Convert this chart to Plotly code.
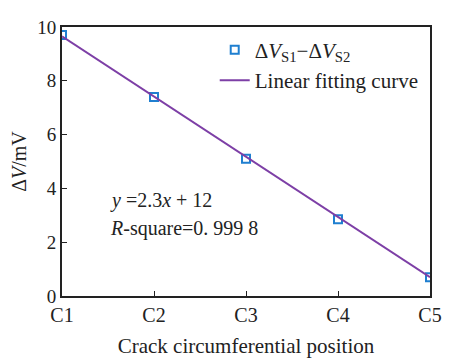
import plotly.graph_objects as go

categories = ["C1", "C2", "C3", "C4", "C5"]
positions = [1, 2, 3, 4, 5]
delta_v = [9.7, 7.4, 5.1, 2.85, 0.7]
fit_x = [1, 5]
fit_y = [9.65, 0.7]
y_ticks = [0, 2, 4, 6, 8, 10]

FONT = "Liberation Serif"

fig = go.Figure()
fig.add_trace(go.Scatter(
    x=positions, y=delta_v, mode="markers",
    name="Δ<i>V</i><sub>S1</sub>−Δ<i>V</i><sub>S2</sub>",
    marker=dict(symbol="square-open", size=8, color="#1f7fd0", line=dict(width=2, color="#1f7fd0")),
))
fig.add_trace(go.Scatter(
    x=fit_x, y=fit_y, mode="lines", name="Linear fitting curve",
    line=dict(color="#7d3fa6", width=2),
))

fig.update_layout(
    width=443, height=355,
    margin=dict(l=52, r=13, t=9, b=64),
    paper_bgcolor="white", plot_bgcolor="white",
    font=dict(family=FONT, size=20, color="#222"),
    showlegend=True,
    legend=dict(x=0.415, y=0.99, xanchor="left", yanchor="top",
                bgcolor="rgba(255,255,255,0)", font=dict(family=FONT, size=21),
                itemwidth=30, tracegroupgap=0),
    xaxis=dict(range=[1, 5], tickvals=positions, ticktext=categories,
               ticks="inside", ticklen=5, tickcolor="#222",
               showline=True, linecolor="#222", linewidth=2, mirror=True,
               showgrid=False, zeroline=False,
               title=dict(text="Crack circumferential position", font=dict(size=21), standoff=13)),
    yaxis=dict(range=[0, 10], tickvals=y_ticks,
               ticks="inside", ticklen=5, tickcolor="#222", tickfont=dict(size=19),
               showline=True, linecolor="#222", linewidth=2, mirror=True,
               showgrid=False, zeroline=False,
               title=dict(text="Δ<i>V</i>/mV", font=dict(size=20), standoff=6)),
)
fig.add_annotation(x=0.125, y=0.355, xref="paper", yref="paper", xanchor="left", yanchor="middle",
                   text="<i>y</i> =2.3<i>x</i> + 12", showarrow=False, font=dict(family=FONT, size=20))
fig.add_annotation(x=0.125, y=0.25, xref="paper", yref="paper", xanchor="left", yanchor="middle",
                   text="<i>R</i>-square=0. 999 8", showarrow=False, font=dict(family=FONT, size=20))

fig.write_html("out.html")
